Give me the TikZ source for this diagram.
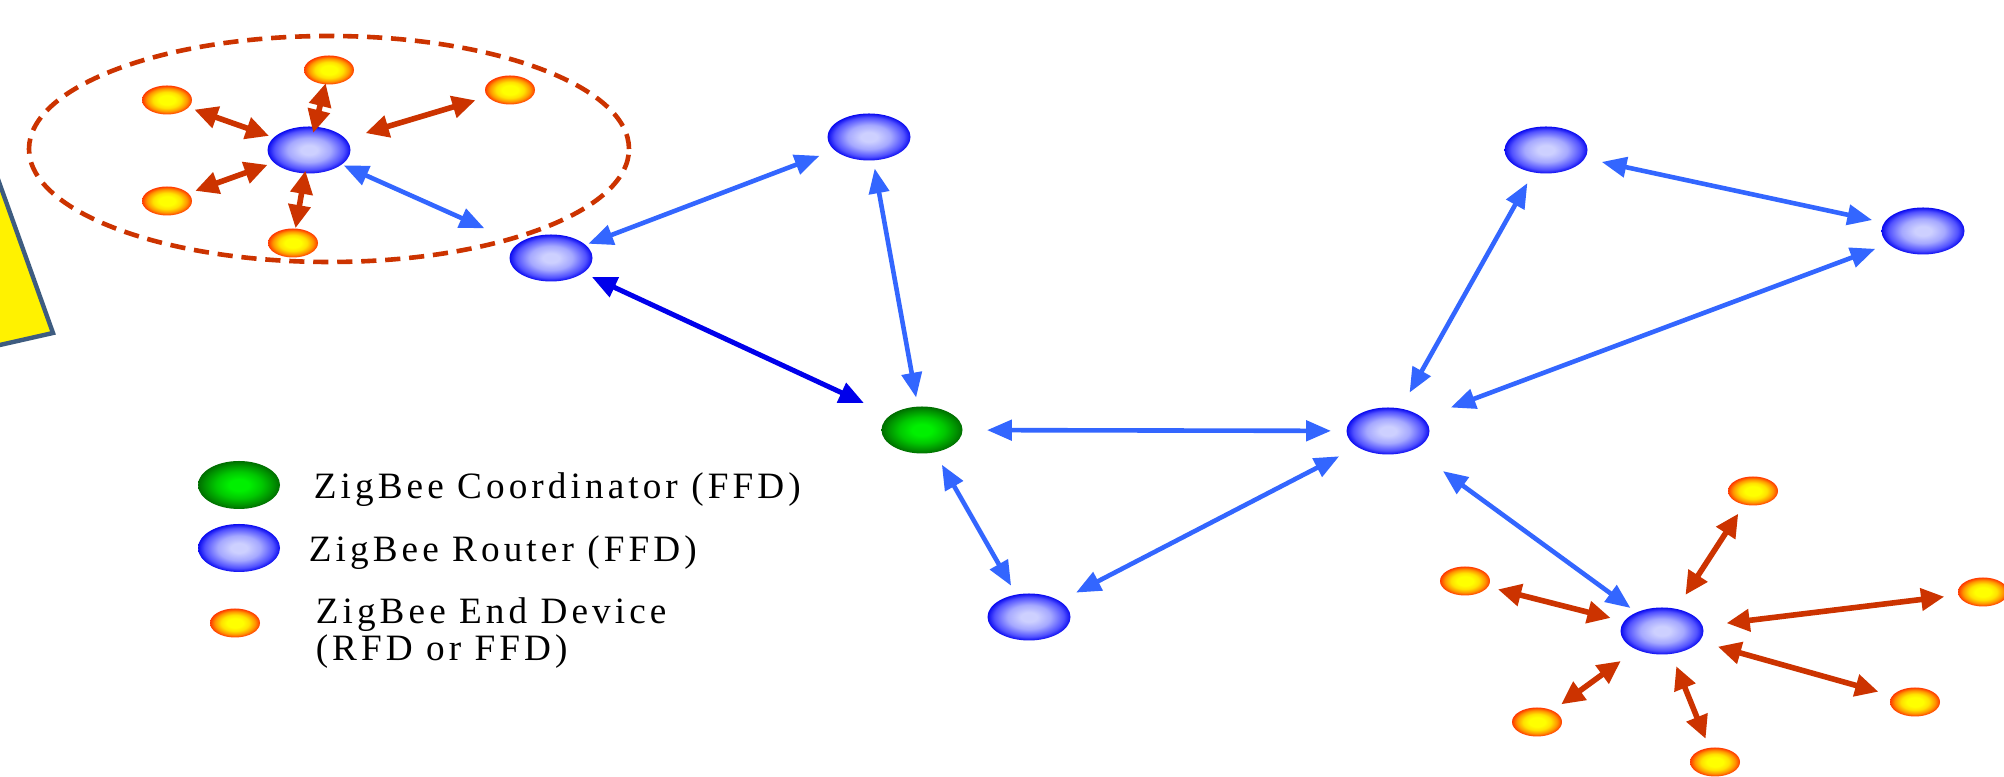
\documentclass[tikz,border=0pt]{standalone}
\usepackage{fontspec}
\setmainfont{Liberation Serif}
\newfontfamily\legendfont[LetterSpace=11]{Liberation Serif}
\usetikzlibrary{arrows.meta,shapes.geometric}
\definecolor{linkblue}{RGB}{51,102,255}
\definecolor{darklink}{RGB}{0,0,235}
\definecolor{brownlink}{RGB}{204,51,0}
\definecolor{boxline}{RGB}{62,92,128}
\definecolor{rA}{RGB}{205,208,255}
\definecolor{rB}{RGB}{165,168,255}
\definecolor{rC}{RGB}{80,80,255}
\definecolor{rD}{RGB}{10,10,240}
\definecolor{gA}{RGB}{0,240,0}
\definecolor{gB}{RGB}{0,200,0}
\definecolor{gC}{RGB}{0,145,0}
\definecolor{gD}{RGB}{0,110,0}
\definecolor{eA}{RGB}{255,255,0}
\definecolor{eB}{RGB}{255,225,0}
\definecolor{eC}{RGB}{255,150,0}
\definecolor{eD}{RGB}{255,55,0}
\pgfdeclareradialshading{routershade}{\pgfpoint{0bp}{0bp}}{color(0bp)=(rA); color(5bp)=(rA); color(13bp)=(rB); color(21bp)=(rC); color(25bp)=(rD); color(50bp)=(rD)}
\pgfdeclareradialshading{coordshade}{\pgfpoint{0bp}{0bp}}{color(0bp)=(gA); color(6bp)=(gA); color(14bp)=(gB); color(21bp)=(gC); color(25bp)=(gD); color(50bp)=(gD)}
\pgfdeclareradialshading{edshade}{\pgfpoint{0bp}{0bp}}{color(0bp)=(eA); color(8bp)=(eA); color(14bp)=(eB); color(20bp)=(eC); color(25bp)=(eD); color(50bp)=(eD)}
\tikzset{
  router/.style={ellipse, minimum width=20.75pt, minimum height=11.75pt, inner sep=0pt, shade, shading=routershade},
  coordnode/.style={ellipse, minimum width=20.25pt, minimum height=11.75pt, inner sep=0pt, shade, shading=coordshade},
  enddev/.style={ellipse, minimum width=12.5pt, minimum height=7.25pt, inner sep=0pt, shade, shading=edshade},
  blink/.style={draw=linkblue, line width=1.15pt, {Triangle[length=6.2pt,width=5pt]}-{Triangle[length=6.2pt,width=5pt]}},
  dlink/.style={draw=darklink, line width=1.25pt, {Triangle[length=6.2pt,width=5.2pt]}-{Triangle[length=6.2pt,width=5.2pt]}},
  elink/.style={draw=brownlink, line width=1.4pt, {Triangle[length=5.8pt,width=5.4pt]}-{Triangle[length=5.8pt,width=5.4pt]}},
  gap/.style 2 args={shorten <=#1, shorten >=#2},
  legendtext/.style={anchor=west, inner sep=0pt, align=left, font={\legendfont\fontsize{9.3pt}{8.25pt}\selectfont}},
  groupring/.style={ellipse, draw=brownlink, line width=1.15pt, dash pattern=on 3.8pt off 2.2pt, minimum width=150pt, minimum height=56.5pt, inner sep=0pt}
}
\begin{document}
\begin{tikzpicture}[x=0.25pt, y=-0.25pt]
\useasboundingbox (0,0) rectangle (2004,777);
\clip (0,0) rectangle (2004,777);
\fill[white] (0,0) rectangle (2004,777);

% yellow box at the left edge
\filldraw[fill=yellow, draw=boxline, line width=1.1pt, line join=miter] (-40,73) -- (53,333) -- (-40,354) -- cycle;

% group ring
\node[groupring] (ring) at (329,149) {};

% nodes
\node[router] (R1) at (309,150) {};
\node[router] (R2) at (551,258) {};
\node[router] (R3) at (869,137) {};
\node[coordnode] (C) at (922,430) {};
\node[router] (R4) at (1029,617) {};
\node[router] (R5) at (1388,431) {};
\node[router] (R6) at (1546,150) {};
\node[router] (R7) at (1923,231) {};
\node[router] (R8) at (1662,631) {};

\node[enddev] (E11) at (167,100) {};
\node[enddev] (E12) at (329,70) {};
\node[enddev] (E13) at (510,90) {};
\node[enddev] (E14) at (167,201) {};
\node[enddev] (E15) at (293,243) {};

\node[enddev] (E81) at (1753,491) {};
\node[enddev] (E82) at (1465,581) {};
\node[enddev] (E83) at (1983,592) {};
\node[enddev] (E84) at (1915,702) {};
\node[enddev] (E85) at (1715,762) {};
\node[enddev] (E86) at (1537,722) {};

% star around R1
\draw[elink, gap={4.4pt}{3.4pt}] (R1.center) -- (E12.center);
\draw[elink, gap={10.6pt}{7.25pt}] (R1.center) -- (E11.center);
\draw[elink, gap={14.75pt}{9pt}] (R1.center) -- (E13.center);
\draw[elink, gap={11pt}{7.5pt}] (R1.center) -- (E14.center);
\draw[elink, gap={5.25pt}{3.75pt}] (R1.center) -- (E15.center);

% mesh links
\draw[blink, gap={9.5pt}{18.25pt}] (R1.center) -- (R2.center);
\draw[blink, gap={10pt}{13.25pt}] (R2.center) -- (R3.center);
\draw[dlink, gap={11.25pt}{16pt}] (R2.center) -- (C.center);
\draw[blink, gap={8pt}{8.25pt}] (R3.center) -- (C.center);
\draw[blink, gap={16.25pt}{14.25pt}] (C.center) -- (R5.center);
\draw[blink, gap={10pt}{9pt}] (C.center) -- (R4.center);
\draw[blink, gap={13.25pt}{13.75pt}] (R4.center) -- (R5.center);
\draw[blink, gap={11pt}{9.5pt}] (R5.center) -- (R6.center);
\draw[blink, gap={16.75pt}{12.75pt}] (R5.center) -- (R7.center);
\draw[blink, gap={14.25pt}{13pt}] (R6.center) -- (R7.center);
\draw[blink, gap={17pt}{9.75pt}] (R5.center) -- (R8.center);

% star around R8
\draw[elink, gap={10.75pt}{6.75pt}] (R8.center) -- (E81.center);
\draw[elink, gap={13.25pt}{8.5pt}] (R8.center) -- (E82.center);
\draw[elink, gap={16.25pt}{9.75pt}] (R8.center) -- (E83.center);
\draw[elink, gap={14.5pt}{9.5pt}] (R8.center) -- (E84.center);
\draw[elink, gap={9.5pt}{6.25pt}] (R8.center) -- (E85.center);
\draw[elink, gap={12.75pt}{7.5pt}] (R8.center) -- (E86.center);

% legend
\node[coordnode, minimum width=20.5pt, minimum height=12pt] (LC) at (239,485) {};
\node[router, minimum width=20.5pt, minimum height=12pt] (LR) at (239,548) {};
\node[enddev] (LE) at (235,623) {};
\node[legendtext] (TC) at (313,490) {ZigBee Coordinator (FFD)};
\node[legendtext] (TR) at (308,553) {ZigBee Router (FFD)};
\node[legendtext] (TE) at (315,633) {ZigBee End Device\\(RFD or FFD)};
\end{tikzpicture}
\end{document}
